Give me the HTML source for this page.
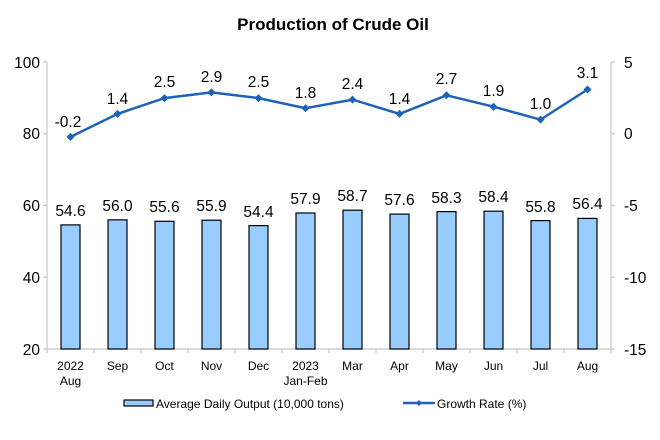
<!DOCTYPE html>
<html><head><meta charset="utf-8"><style>
body{margin:0;background:#fff}
svg{display:block;font-family:"Liberation Sans",Arial,sans-serif}
</style></head><body>
<svg width="660" height="440" viewBox="0 0 660 440">
<text x="333" y="30" font-size="17" font-weight="bold" text-anchor="middle">Production of Crude Oil</text>
<g stroke="#c8c8c8" stroke-width="1.2" fill="none">
<line x1="47" y1="62" x2="47" y2="349"/>
<line x1="611" y1="62" x2="611" y2="349"/>
<line x1="47" y1="349" x2="611" y2="349"/>
<path d="M43 62H47M43 133.75H47M43 205.5H47M43 277.25H47M43 349H47"/>
<path d="M611 62H615M611 133.75H615M611 205.5H615M611 277.25H615M611 349H615"/>
<path d="M47 349v4M94 349v4M141 349v4M188 349v4M235 349v4M282 349v4M329 349v4M376 349v4M423 349v4M470 349v4M517 349v4M564 349v4M611 349v4"/>
</g>
<g font-size="15.5" text-anchor="end">
<text x="40" y="68">100</text><text x="40" y="139">80</text><text x="40" y="211">60</text><text x="40" y="283">40</text><text x="40" y="355">20</text>
</g>
<g font-size="15.5" text-anchor="start">
<text x="624" y="68">5</text><text x="624" y="139">0</text><text x="624" y="211">-5</text><text x="624" y="283">-10</text><text x="624" y="355">-15</text>
</g>
<g fill="#99ccff" stroke="#000" stroke-width="1.2">
<rect x="61" y="224.9" width="19" height="124.1"/>
<rect x="108" y="219.85" width="19" height="129.15"/>
<rect x="155" y="221.3" width="19" height="127.7"/>
<rect x="202" y="220.2" width="19" height="128.8"/>
<rect x="249" y="225.6" width="19" height="123.4"/>
<rect x="296" y="213" width="19" height="136"/>
<rect x="343" y="210.2" width="19" height="138.8"/>
<rect x="390" y="214.1" width="19" height="134.9"/>
<rect x="437" y="211.6" width="19" height="137.4"/>
<rect x="484" y="211.2" width="19" height="137.8"/>
<rect x="531" y="220.6" width="19" height="128.4"/>
<rect x="578" y="218.4" width="19" height="130.6"/>
</g>
<g font-size="15.5" text-anchor="middle">
<text x="70.5" y="216">54.6</text><text x="117.5" y="211">56.0</text><text x="164.5" y="212">55.6</text><text x="211.5" y="211">55.9</text><text x="258.5" y="217">54.4</text><text x="305.5" y="204">57.9</text><text x="352.5" y="201">58.7</text><text x="399.5" y="205">57.6</text><text x="446.5" y="203">58.3</text><text x="493.5" y="202">58.4</text><text x="540.5" y="212">55.8</text><text x="587.5" y="209">56.4</text>
</g>
<polyline fill="none" stroke="#1f63b8" stroke-width="2.5" points="70.5,136.9 117.5,113.9 164.5,98.1 211.5,92.4 258.5,98.1 305.5,108.2 352.5,99.6 399.5,113.9 446.5,95.3 493.5,106.7 540.5,119.65 587.5,89.5"/>
<g fill="#1f63b8">
<path d="M70.5 132.9l4 4-4 4-4-4z"/><path d="M117.5 109.9l4 4-4 4-4-4z"/><path d="M164.5 94.1l4 4-4 4-4-4z"/><path d="M211.5 88.4l4 4-4 4-4-4z"/><path d="M258.5 94.1l4 4-4 4-4-4z"/><path d="M305.5 104.2l4 4-4 4-4-4z"/><path d="M352.5 95.6l4 4-4 4-4-4z"/><path d="M399.5 109.9l4 4-4 4-4-4z"/><path d="M446.5 91.3l4 4-4 4-4-4z"/><path d="M493.5 102.7l4 4-4 4-4-4z"/><path d="M540.5 115.65l4 4-4 4-4-4z"/><path d="M587.5 85.5l4 4-4 4-4-4z"/>
</g>
<g font-size="15.5" text-anchor="middle">
<text x="68" y="127">-0.2</text><text x="117.5" y="104">1.4</text><text x="164.5" y="87">2.5</text><text x="211.5" y="82">2.9</text><text x="258.5" y="87">2.5</text><text x="305.5" y="98">1.8</text><text x="352.5" y="89">2.4</text><text x="399.5" y="104">1.4</text><text x="446.5" y="84">2.7</text><text x="493.5" y="96">1.9</text><text x="540.5" y="109">1.0</text><text x="587.5" y="78">3.1</text>
</g>
<g font-size="12" text-anchor="middle">
<text x="70.5" y="370">2022</text><text x="70.5" y="385">Aug</text>
<text x="117.5" y="370">Sep</text><text x="164.5" y="370">Oct</text><text x="211.5" y="370">Nov</text><text x="258.5" y="370">Dec</text>
<text x="305.5" y="370">2023</text><text x="305.5" y="385">Jan-Feb</text>
<text x="352.5" y="370">Mar</text><text x="399.5" y="370">Apr</text><text x="446.5" y="370">May</text><text x="493.5" y="370">Jun</text><text x="540.5" y="370">Jul</text><text x="587.5" y="370">Aug</text>
</g>
<rect x="124" y="400" width="29" height="6" fill="#99ccff" stroke="#000" stroke-width="1.2"/>
<text x="156" y="408" font-size="12">Average Daily Output (10,000 tons)</text>
<line x1="403" y1="403" x2="435" y2="403" stroke="#1f63b8" stroke-width="2.5"/>
<path d="M419 400l3 3-3 3-3-3z" fill="#1f63b8"/>
<text x="437" y="408" font-size="12">Growth Rate (%)</text>
</svg>
</body></html>
